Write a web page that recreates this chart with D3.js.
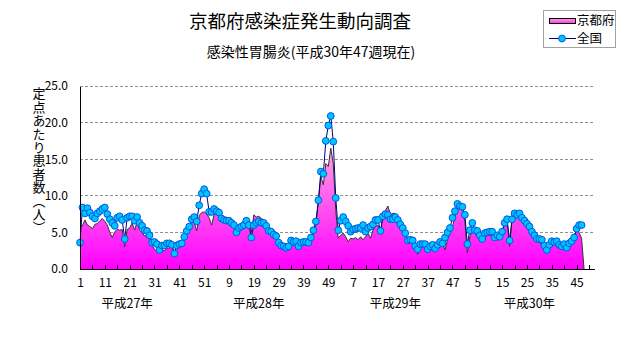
<!DOCTYPE html>
<html><head><meta charset="utf-8">
<script src="https://cdn.jsdelivr.net/npm/d3@7"></script>
<style>
html,body{margin:0;padding:0;background:#fff;}
svg{display:block;}
text{font-family:"Noto Sans CJK JP","Noto Sans",sans-serif;fill:#000;}
</style></head><body>
<svg id="chart" width="631" height="347"></svg>
<script>
// ---- data ----
const yearLabels = ["平成27年","平成28年","平成29年","平成30年"];
const yearWeekSlots = [52,52,52,52];
const yTicks = [0,5,10,15,20,25];
const seriesNames = ["京都府","全国"];

const kyoto2015 = [5.9,5.9,6.7,6.0,5.8,5.5,6.1,6.2,6.6,6.9,6.5,6.0,5.0,4.3,5.1,5.4,5.3,5.4,3.0,5.4,5.6,6.3,5.3,6.5,5.3,5.0,4.5,4.6,4.0,3.3,2.7,2.4,2.4,2.6,2.5,2.8,2.9,3.0,2.4,2.6,3.0,3.8,4.0,4.8,6.0,6.4,6.3,5.2,7.3,7.7,7.8,7.5];
const kyoto2016 = [7.0,6.0,7.4,7.8,7.4,6.9,6.8,6.5,6.5,6.2,5.8,5.6,5.9,6.2,6.7,7.1,6.7,5.0,7.4,7.1,7.2,6.9,6.7,6.0,5.3,5.1,4.8,4.3,3.6,3.1,3.0,2.7,2.8,3.3,3.3,3.5,2.9,3.2,3.4,3.3,3.3,4.0,4.8,6.0,9.2,12.6,11.5,14.4,14.0,16.5,14.4,8.0];
const kyoto2017 = [4.2,4.6,4.9,4.4,3.7,4.2,4.1,4.3,4.0,4.4,4.0,4.4,4.9,4.2,5.3,5.8,6.0,4.8,7.3,8.0,8.6,7.4,7.6,7.6,7.2,6.5,5.6,4.9,4.0,3.7,3.4,2.6,2.0,2.8,3.1,3.1,3.1,2.8,3.1,3.3,2.9,3.0,3.5,2.6,4.0,4.8,5.8,7.1,8.2,8.6,7.8,6.5];
const kyoto2018 = [2.2,4.4,5.3,4.9,4.4,4.0,4.0,4.3,4.6,4.6,4.6,4.0,4.0,4.0,5.3,6.0,6.5,3.1,6.7,7.7,7.8,7.8,7.4,6.9,6.3,5.8,5.3,4.5,4.0,3.6,3.3,2.6,2.4,3.0,3.1,3.4,3.1,2.8,2.8,3.1,2.6,3.3,4.0,4.6,5.3,5.0,4.2];

const national2015 = [3.6,8.4,7.6,8.3,7.7,7.2,6.9,7.6,7.9,8.2,8.4,7.5,6.8,6.3,5.9,7.0,7.2,6.7,4.1,7.0,7.2,7.2,6.6,7.1,6.3,5.9,5.3,5.2,4.6,3.6,3.7,3.4,2.6,3.2,3.2,3.5,3.5,3.3,2.1,3.2,3.4,3.5,4.4,5.2,5.8,6.8,7.1,6.5,8.7,10.3,10.9,10.3];
const national2016 = [7.8,7.8,8.2,7.9,7.7,6.9,6.7,6.6,6.6,6.3,6.0,5.0,5.6,5.8,6.0,6.6,6.0,4.3,6.0,6.3,6.5,6.3,6.3,5.9,5.2,5.1,4.7,4.5,3.6,3.2,3.1,2.9,3.1,3.9,3.7,3.8,3.1,3.6,3.7,3.7,3.6,4.3,5.3,6.5,9.4,13.3,13.0,17.5,19.6,20.9,17.4,9.7];
const national2017 = [5.3,6.6,7.1,6.5,5.9,5.1,5.4,5.5,5.6,5.6,6.0,5.1,5.6,5.8,6.1,6.7,6.7,5.2,7.2,7.5,7.4,6.8,6.8,7.1,6.7,6.1,5.6,4.9,3.9,4.0,3.9,3.1,2.7,3.4,3.4,3.4,2.7,3.1,3.3,2.8,3.3,3.7,3.5,4.3,5.0,5.6,7.0,7.9,8.9,8.6,8.5,7.4];
const national2018 = [3.4,5.3,6.3,5.3,5.2,4.6,4.1,4.9,5.0,5.1,5.1,4.3,4.6,4.4,5.1,6.3,6.8,3.9,6.8,7.6,7.4,7.6,7.0,6.6,6.2,5.8,5.1,4.6,4.1,4.1,4.0,3.2,2.6,3.3,3.8,3.7,3.8,3.3,3.1,3.4,2.9,3.5,3.8,4.3,5.5,6.0,6.0];

// ---- build categories ----
const cats = [], catWeek = [];
yearWeekSlots.forEach((n, yi) => { for (let w = 1; w <= n; w++) { cats.push(yi + "-" + w); catWeek.push(w); } });
const kyoto = [].concat(kyoto2015, kyoto2016, kyoto2017, kyoto2018);
const national = [].concat(national2015, national2016, national2017, national2018);

const svg = d3.select("#chart");
const x = d3.scalePoint().domain(cats).range([80, 594]);
const y = d3.scaleLinear().domain([0, 25]).range([269, 86]);

// gradient
const defs = svg.append("defs");
const grad = defs.append("linearGradient").attr("id","pinkGrad")
  .attr("gradientUnits","userSpaceOnUse").attr("x1",0).attr("x2",0)
  .attr("y1", y(17)).attr("y2", y(0));
grad.append("stop").attr("offset","0%").attr("stop-color","#ffa8de");
grad.append("stop").attr("offset","100%").attr("stop-color","#ff00ff");
const grad2 = defs.append("linearGradient").attr("id","legGrad").attr("x1",0).attr("x2",0).attr("y1",0).attr("y2",1);
grad2.append("stop").attr("offset","0%").attr("stop-color","#ff9ee0");
grad2.append("stop").attr("offset","100%").attr("stop-color","#ff33ee");

// gridlines
svg.append("g").selectAll("line").data(yTicks.filter(d => d > 0)).join("line")
  .attr("x1", 80).attr("x2", 594).attr("y1", d => y(d)).attr("y2", d => y(d))
  .attr("stroke", "#909090").attr("stroke-width", 1).attr("stroke-dasharray", "3,2")
  .attr("shape-rendering","crispEdges");

// area (blank cells after the last week drop to zero)
const areaPts = kyoto.map((v, i) => ({k: cats[i], v}));
areaPts.push({k: cats[kyoto.length], v: 0});
svg.append("path").datum(areaPts)
  .attr("d", d3.area().x(d => x(d.k)).y0(y(0)).y1(d => y(d.v)))
  .attr("fill", "url(#pinkGrad)");
svg.append("path").datum(areaPts)
  .attr("d", d3.line().x(d => x(d.k)).y(d => y(d.v)))
  .attr("fill", "none").attr("stroke", "#333").attr("stroke-width", 1);

// national line
const natPts = national.map((v, i) => ({k: cats[i], v}));
svg.append("path").datum(natPts)
  .attr("d", d3.line().x(d => x(d.k)).y(d => y(d.v)))
  .attr("fill", "none").attr("stroke", "#000080").attr("stroke-width", 1);
svg.append("g").selectAll("circle").data(natPts).join("circle")
  .attr("cx", d => x(d.k)).attr("cy", d => y(d.v)).attr("r", 3.4)
  .attr("fill", "#00c4ff").attr("stroke", "#0058e0").attr("stroke-width", 1);

// axes
const yAxis = svg.append("g").attr("transform", "translate(80,0)")
  .call(d3.axisLeft(y).tickValues(yTicks).tickFormat(d3.format(".1f")).tickSize(0).tickPadding(12));
yAxis.select(".domain").attr("stroke", "#000").attr("shape-rendering","crispEdges");
yAxis.selectAll("text").attr("font-size", 12).style("font-family", "'Noto Sans CJK JP',sans-serif");

const tickCats = cats.filter((c, i) => i % 5 === 0);
const xAxis = svg.append("g").attr("transform", "translate(0,269)")
  .call(d3.axisBottom(x).tickValues(tickCats).tickSizeInner(-4).tickSizeOuter(0).tickPadding(9)
    .tickFormat(c => { const i = cats.indexOf(c); return i % 10 === 0 ? String(catWeek[i]) : ""; }));
xAxis.select(".domain").attr("stroke", "#000").attr("shape-rendering","crispEdges");
xAxis.selectAll(".tick line").attr("stroke", "#000").attr("shape-rendering","crispEdges");
xAxis.selectAll("text").attr("font-size", 12).style("font-family", "'Noto Sans CJK JP',sans-serif");

// year labels
const yearAnchorWeek = [20, 21, 24, 26];
svg.append("g").selectAll("text").data(yearLabels).join("text")
  .attr("x", (d, i) => x(i + "-" + yearAnchorWeek[i])).attr("y", 308)
  .attr("text-anchor", "middle").attr("font-size", 12.5).text(d => d);

// titles
svg.append("text").attr("x", 300).attr("y", 28).attr("text-anchor", "middle")
  .attr("font-size", 18.5).text("京都府感染症発生動向調査");
svg.append("text").attr("x", 311).attr("y", 57).attr("text-anchor", "middle")
  .attr("font-size", 14).text("感染性胃腸炎(平成30年47週現在)");

// y axis title (vertical)
svg.append("text").attr("x", 39).attr("y", 87)
  .style("writing-mode", "vertical-rl").attr("font-size", 13).attr("letter-spacing", 0.4)
  .text("定点あたり患者数（人）");

// legend
const lg = svg.append("g");
lg.append("rect").attr("x", 543.5).attr("y", 10.5).attr("width", 72).attr("height", 37)
  .attr("fill", "#fff").attr("stroke", "#a0a0a0");
lg.append("rect").attr("x", 549.5).attr("y", 18.5).attr("width", 26).attr("height", 5)
  .attr("fill", "url(#legGrad)").attr("stroke", "#000");
lg.append("line").attr("x1", 549).attr("x2", 576).attr("y1", 38.5).attr("y2", 38.5)
  .attr("stroke", "#000080");
lg.append("circle").attr("cx", 562).attr("cy", 38.5).attr("r", 3.4)
  .attr("fill", "#00c4ff").attr("stroke", "#0058e0");
lg.selectAll("text.lt").data(seriesNames).join("text").attr("class","lt")
  .attr("x", 577).attr("y", (d, i) => 25 + i * 18).attr("font-size", 12.5).text(d => d);
</script>
</body></html>
